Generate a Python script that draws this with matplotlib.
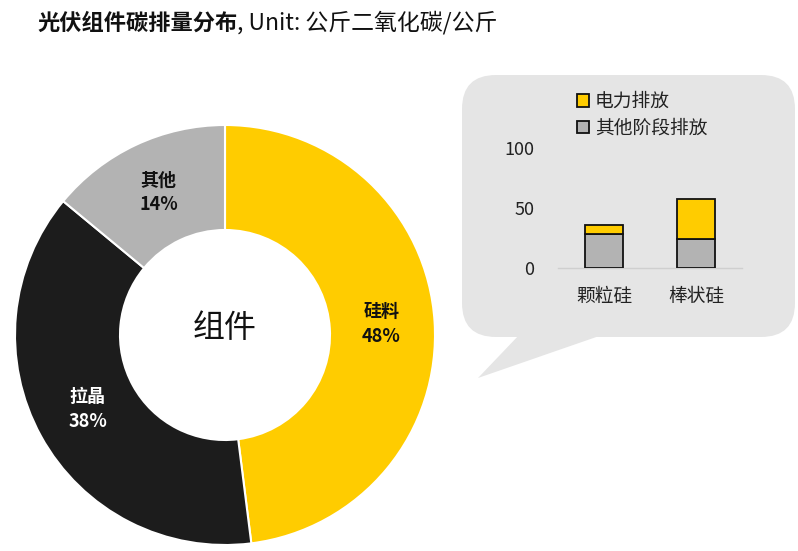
import matplotlib
matplotlib.use("Agg")
import matplotlib.pyplot as plt
from matplotlib.patches import FancyBboxPatch, Polygon
import numpy as np

plt.rcParams['font.family'] = ['Noto Sans CJK SC', 'DejaVu Sans']

# ---- data ----
title_bold = "光伏组件碳排量分布"
title_rest = ", Unit: 公斤二氧化碳/公斤"
center_label = "组件"
donut_labels = ["硅料", "拉晶", "其他"]
donut_values = [48, 38, 14]
donut_colors = ["#FFCC00", "#1C1C1C", "#B3B3B3"]
donut_text_colors = ["#111111", "#FFFFFF", "#111111"]

bar_categories = ["颗粒硅", "棒状硅"]
other_stage = [28.5, 24.3]
electricity = [7.7, 33.5]
series_names = ["电力排放", "其他阶段排放"]
bar_ticks = [0, 50, 100]

W, H = 798, 551
fig = plt.figure(figsize=(W / 100, H / 100), dpi=100)
fig.patch.set_facecolor("white")

def fx(px):
    return px / W

def fy(py):
    return 1 - py / H

# ---- background axes (speech bubble) ----
bg = fig.add_axes([0, 0, 1, 1], zorder=0)
bg.set_xlim(0, W)
bg.set_ylim(H, 0)
bg.axis("off")
bubble_color = "#E5E5E5"
bub = FancyBboxPatch((462 + 34, 75 + 34), 333 - 68, 262 - 68,
                     boxstyle="round,pad=34", fc=bubble_color, ec="none")
bg.add_patch(bub)
tail = Polygon([(520, 334), (605, 334), (478, 378)], closed=True,
               fc=bubble_color, ec="none")
bg.add_patch(tail)

# ---- title ----
t1 = fig.text(fx(37), fy(23), title_bold, fontsize=16, fontweight="bold",
              va="center", ha="left", color="#111111")
bg.annotate(title_rest, xy=(1, 0.5), xycoords=t1, va="center", ha="left",
            fontsize=16.5, color="#111111")

# ---- donut ----
cx, cy, r = 225, 335, 210
axd = fig.add_axes([fx(cx - r), fy(cy + r), 2 * r / W, 2 * r / H], zorder=1)
wedges, _ = axd.pie(donut_values, colors=donut_colors, startangle=90,
                    counterclock=False, radius=1,
                    wedgeprops=dict(width=0.5, edgecolor="white", linewidth=1.5))
axd.set_xlim(-1, 1)
axd.set_ylim(-1, 1)
axd.set_aspect("equal")
for w, lab, val, tc in zip(wedges, donut_labels, donut_values, donut_text_colors):
    ang = np.deg2rad((w.theta1 + w.theta2) / 2)
    rr = 0.745
    axd.text(rr * np.cos(ang), rr * np.sin(ang) + 0.005, f"{lab}\n{val}%",
             ha="center", va="center", fontsize=13, fontweight="bold",
             color=tc, linespacing=1.4)
axd.text(0, 0.035, center_label, ha="center", va="center", fontsize=23,
         color="#111111")

# ---- inset stacked bars ----
x0, x1 = 558, 742
y0, y100 = 268, 148
axb = fig.add_axes([fx(x0), fy(y0), (x1 - x0) / W, (y0 - y100) / H], zorder=2)
axb.patch.set_alpha(0)
xs = np.arange(len(bar_categories))
b_other = axb.bar(xs, other_stage, width=0.41, color="#B3B3B3",
                  edgecolor="#111111", linewidth=1.3, zorder=3)
b_elec = axb.bar(xs, electricity, bottom=other_stage, width=0.41,
                 color="#FFCC00", edgecolor="#111111", linewidth=1.3, zorder=3)
axb.set_xlim(-0.5, 1.5)
axb.set_ylim(0, 100)
axb.set_yticks(bar_ticks)
axb.set_yticklabels([str(t) for t in bar_ticks], fontsize=13, color="#222222")
axb.set_xticks(xs)
axb.set_xticklabels(bar_categories, fontsize=13.5, color="#222222")
axb.tick_params(axis="y", length=0, pad=17)
axb.tick_params(axis="x", length=0, pad=13)
for s in ["top", "right", "left"]:
    axb.spines[s].set_visible(False)
axb.spines["bottom"].set_color("#CFCFCF")
axb.spines["bottom"].set_linewidth(1.0)
axb.spines["bottom"].set_zorder(1)

leg = axb.legend([b_elec, b_other], series_names, loc="upper left",
                 bbox_to_anchor=(fx(577), fy(91)), bbox_transform=fig.transFigure,
                 frameon=False, fontsize=13.5, handlelength=0.65,
                 handleheight=0.65, handletextpad=0.3, labelspacing=0.3,
                 borderpad=0, borderaxespad=0)
for t in leg.get_texts():
    t.set_color("#222222")

fig.savefig("out.png", dpi=100, facecolor="white")
